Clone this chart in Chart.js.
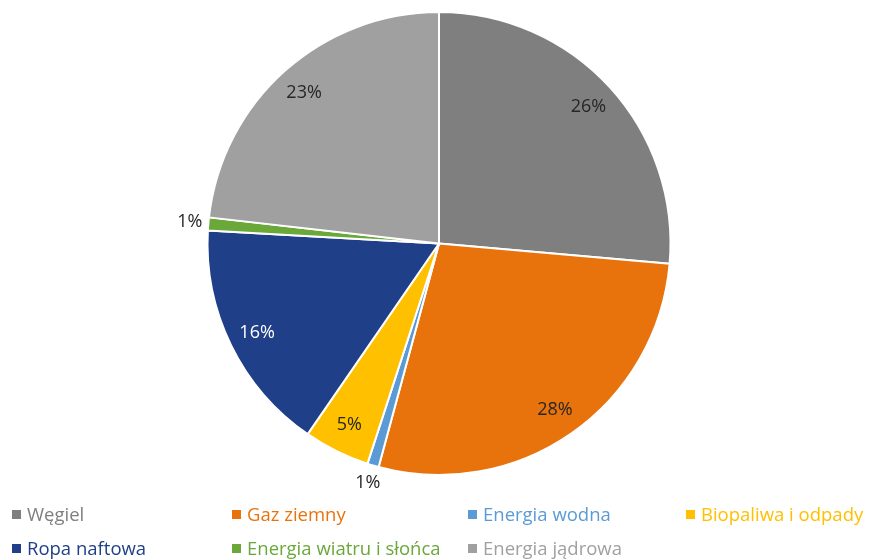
<!DOCTYPE html>
<html lang="pl">
<head>
<meta charset="utf-8">
<title>Struktura zużycia energii pierwotnej</title>
<script src="https://cdn.jsdelivr.net/npm/chart.js@4.4.1/dist/chart.umd.min.js"></script>
<style>
  html, body { margin: 0; padding: 0; background: #ffffff; }
  #wrap { position: relative; width: 872px; height: 560px; }
  #chart { position: absolute; left: 0; top: 0; }
  .leg { position: absolute; font-family: "Open Sans", sans-serif; font-size: 18.5px; line-height: 20px; white-space: nowrap; }
  .leg i { display: inline-block; width: 9px; height: 9px; margin-right: 6px; vertical-align: 2px; }
</style>
</head>
<body>
<div id="wrap">
  <canvas id="chart" width="872" height="560"></canvas>
  <div id="legend"></div>
</div>
<script>
// Źródła energii i ich udział (%)
const categories = ['Węgiel', 'Gaz ziemny', 'Energia wodna', 'Biopaliwa i odpady', 'Ropa naftowa', 'Energia wiatru i słońca', 'Energia jądrowa'];
const shares = [26.4, 27.8, 0.8, 4.6, 16.3, 0.9, 23.2];
const colors = ['#7f7f7f', '#e8730c', '#5b9bd5', '#ffc000', '#1f3f88', '#6aa83a', '#a0a0a0'];
// Kolor etykiety procentowej dla każdego wycinka
const labelColors = ['#262626', '#262626', '#262626', '#262626', '#ffffff', '#262626', '#262626'];

// Pozycje legendy (kolumny, wiersze)
const legendCols = [12, 232, 468, 686];
const legendRows = [504, 538];

const legendEl = document.getElementById('legend');
categories.forEach((name, i) => {
  const d = document.createElement('div');
  d.className = 'leg';
  d.style.left = legendCols[i % 4] + 'px';
  d.style.top = legendRows[Math.floor(i / 4)] + 'px';
  d.style.color = colors[i];
  d.innerHTML = '<i style="background:' + colors[i] + '"></i>' + name;
  legendEl.appendChild(d);
});

// Etykiety procentowe: wewnątrz wycinka, a dla małych wycinków na zewnątrz
const pctLabels = {
  id: 'pctLabels',
  afterDatasetsDraw(chart) {
    const ctx = chart.ctx;
    const meta = chart.getDatasetMeta(0);
    const data = chart.data.datasets[0].data;
    const total = data.reduce((a, b) => a + b, 0);
    ctx.save();
    ctx.font = '18px "Open Sans", sans-serif';
    ctx.textAlign = 'center';
    ctx.textBaseline = 'middle';
    meta.data.forEach((arc, i) => {
      const p = arc.getProps(['x', 'y', 'startAngle', 'endAngle', 'outerRadius'], true);
      const mid = (p.startAngle + p.endAngle) / 2;
      const pct = data[i] / total * 100;
      const outside = pct < 2;
      const f = outside ? 1.08 : 0.875;
      const x = p.x + Math.cos(mid) * p.outerRadius * f;
      const y = p.y + Math.sin(mid) * p.outerRadius * f;
      ctx.fillStyle = outside ? '#262626' : labelColors[i];
      ctx.fillText(Math.round(pct) + '%', x, y);
    });
    ctx.restore();
  }
};

new Chart(document.getElementById('chart'), {
  type: 'pie',
  data: {
    labels: categories,
    datasets: [{
      data: shares,
      backgroundColor: colors,
      borderColor: '#ffffff',
      borderWidth: 2
    }]
  },
  options: {
    responsive: false,
    animation: false,
    layout: { padding: { left: 6, right: 0, top: 11, bottom: 84 } },
    plugins: {
      legend: { display: false },
      tooltip: { enabled: false }
    }
  },
  plugins: [pctLabels]
});
</script>
</body>
</html>
